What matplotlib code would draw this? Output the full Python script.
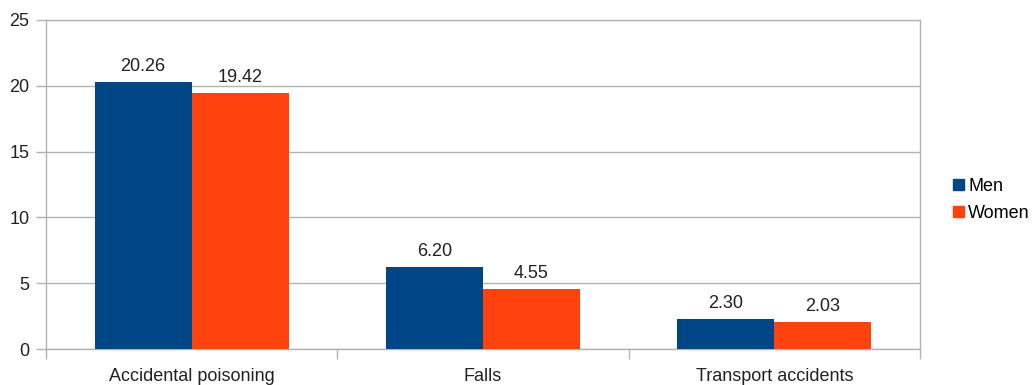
import matplotlib
matplotlib.use("Agg")
import matplotlib.pyplot as plt
import numpy as np
from matplotlib.patches import Patch

categories = ["Accidental poisoning", "Falls", "Transport accidents"]
men = [20.26, 6.20, 2.30]
women = [19.42, 4.55, 2.03]
series_names = ["Men", "Women"]
yticks = [0, 5, 10, 15, 20, 25]

c_men = "#004586"
c_women = "#ff420e"

plt.rcParams['font.family'] = ['Liberation Sans', 'DejaVu Sans']

fig = plt.figure(figsize=(10.32, 3.85), dpi=100)
ax = fig.add_axes([46/1032, 1-349/385, (920-46)/1032, (349-20)/385])

x = np.arange(len(categories))
w = 1/3
b1 = ax.bar(x - w/2, men, width=w, color=c_men, zorder=3)
b2 = ax.bar(x + w/2, women, width=w, color=c_women, zorder=3)
for bars in (b1, b2):
    ax.bar_label(bars, labels=[f"{v:.2f}" for v in bars.datavalues], padding=5,
                 fontsize=13, color="#222222")

ax.set_xlim(-0.5, len(categories) - 0.5)
ax.set_ylim(0, 25)
ax.set_yticks(yticks)
ax.yaxis.grid(True, color="#b3b3b3", linewidth=1, zorder=0)
ax.set_xticks(x)
ax.set_xticklabels(categories, fontsize=13, color="#222222")
ax.tick_params(axis='x', length=0, pad=14)
ax.set_xticks(np.arange(-0.5, len(categories) + 0.5, 1), minor=True)
ax.tick_params(axis='x', which='minor', length=7, color="#b3b3b3", width=1)
ax.tick_params(axis='y', length=7, color="#b3b3b3", width=1, labelsize=13,
               labelcolor="#222222", pad=5)
for s in ax.spines.values():
    s.set_color("#b3b3b3")
    s.set_linewidth(1)

handles = [Patch(color=c_men), Patch(color=c_women)]
fig.legend(handles, series_names, loc="center left", bbox_to_anchor=(944/1032, 1-200/385),
           frameon=False, fontsize=13, handlelength=0.6, handleheight=0.6,
           handletextpad=0.25, labelspacing=0.55, borderpad=0)

fig.savefig("out.png", dpi=100)
